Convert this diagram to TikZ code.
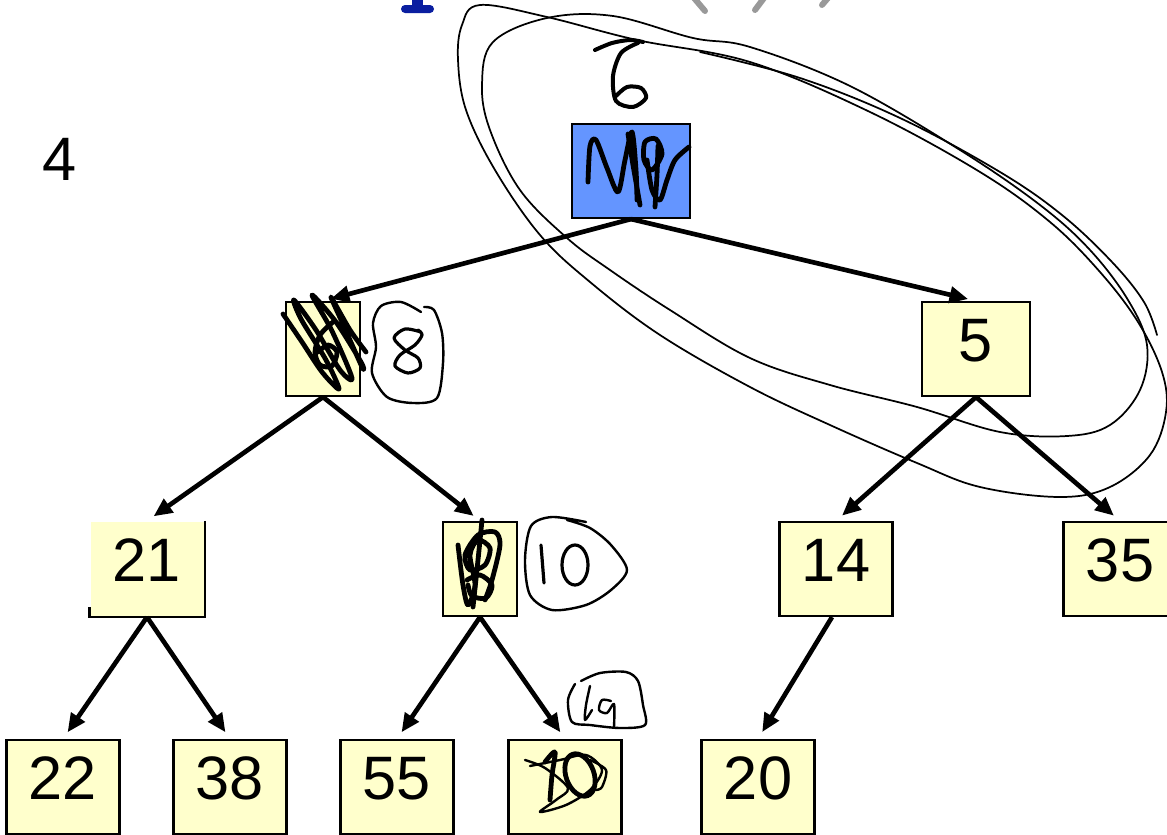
\documentclass[tikz,border=0pt]{standalone}
\usepackage{fontspec}
\setmainfont{Liberation Sans}
\usetikzlibrary{arrows.meta}
\definecolor{boxfill}{HTML}{FFFFCC}
\definecolor{rootfill}{HTML}{6495FF}
\definecolor{titleblue}{HTML}{0A1EA0}
\begin{document}
\begin{tikzpicture}[x=0.75pt,y=-0.75pt,
  box/.style={draw=black, line width=1.6pt, fill=boxfill,
    minimum width=84.75pt, minimum height=70.5pt, inner sep=0pt,
    font=\fontsize{46}{46}\selectfont, text height=33pt, text depth=14pt},
  slim/.style={box, minimum width=55.5pt},
  link/.style={line width=3.5pt, -{Triangle[length=14pt,width=12pt]}, shorten >=6pt},
  ink/.style={line width=1.3pt, line cap=round, line join=round},
  pen/.style={line width=3.6pt, line cap=round, line join=round},
]
\useasboundingbox (0,0) rectangle (1167,835);
\clip (0,0) rectangle (1167,835);

% cut-off heading marks along the top edge
\fill[titleblue, rounded corners=3pt] (401,5) rectangle (434,13);
\fill[titleblue] (412,0) rectangle (423,6);
\draw[gray!80, line width=4.5pt, line cap=round] (694,-2) -- (705,11);
\draw[gray!80, line width=4.5pt, line cap=round] (764,-2) -- (755,10);
\draw[gray!80, line width=4.5pt, line cap=round] (828,-2) -- (822,5);

% side label
\node[font=\fontsize{46}{46}\selectfont, text height=33pt, text depth=0pt, inner sep=0pt] (lvl) at (60,158) {4};

% heap nodes
\node[box, fill=rootfill, minimum width=88.5pt] (r) at (631,171) {};
\node[slim] (a) at (323,349) {};
\node[box, minimum width=81pt] (b) at (976,349) {5};
\node[box, draw=none] (c) at (147,569) {21};
\draw[line width=1.6pt] (c.north east) -- (c.south east) -- (c.south west) -- ++(0,-10);
\node[slim] (d) at (480,569) {};
\node[box] (e) at (836,569) {14};
\node[box] (f) at (1120,569) {35};
\node[box] (g) at (63,787) {22};
\node[box] (h) at (230,787) {38};
\node[box] (i) at (397,787) {55};
\node[box] (j) at (565,787) {};
\node[box] (k) at (758,787) {20};

% tree links
\draw[link] (r.south) -- (a.north);
\draw[link] (r.south) -- (b.north);
\draw[link] (a.south) -- (c.north);
\draw[link] (a.south) -- (d.north);
\draw[link] (b.south) -- (e.north);
\draw[link] (b.south) -- (f.north);
\draw[link] (c.south) -- (g.north);
\draw[link] (c.south) -- (h.north);
\draw[link] (d.south) -- (i.north);
\draw[link] (d.south) -- (j.north);
\draw[link] ([xshift=-3pt]e.south) -- (k.north);

% handwritten: new root value
\draw[pen, line width=3pt] plot[smooth] coordinates {(595,50) (612,43) (630,40) (643,42)};
\draw[pen, line width=3pt] plot[smooth] coordinates {(638,43) (621,53) (613,76) (616,101) (633,107) (646,98) (641,88) (627,87) (616,96)};

% scribble over the root value
\draw[pen] plot[smooth] coordinates {(588,182) (590,146) (596,140) (607,168) (618,192) (625,160) (632,132) (636,170) (637,200)};
\draw[pen] plot[smooth] coordinates {(628,134) (633,165) (640,205)};
\draw[pen] plot[smooth cycle] coordinates {(645,142) (656,139) (662,154) (652,170) (644,160)};
\draw[pen] plot[smooth] coordinates {(658,146) (657,175) (655,207)};
\draw[pen] plot[smooth] coordinates {(647,160) (652,190) (660,200) (667,180) (675,160) (689,147)};

% scribble over the left child, corrected value circled
\draw[pen] plot[smooth] coordinates {(283,314) (302,342) (322,372) (339,389) (326,360) (301,319) (294,300) (316,330) (340,370) (352,378) (332,331) (312,295) (336,322) (361,362) (362,367) (342,322) (331,297) (350,330) (366,352)};
\draw[pen] plot[smooth] coordinates {(333,322) (320,335) (315,352) (320,365) (332,366) (337,352) (328,345) (318,352)};
\draw[ink, line width=1.8pt] plot[smooth] coordinates {(421,312) (401,302) (381,306) (373,323) (376,347) (372,373) (387,397) (413,403) (437,398) (443,363) (442,333) (434,310) (424,307)};
\draw[pen, line width=2.4pt] plot[smooth] coordinates {(421,332) (405,329) (394,338) (405,350) (418,358) (420,368) (408,373) (395,366) (400,355) (415,345) (422,335) (418,330)};

% scribble over the middle node, corrected value in a blob
\draw[pen] plot[smooth] coordinates {(482,520) (478,560) (473,607)};
\draw[pen] plot[smooth] coordinates {(458,545) (463,585) (468,605) (475,585) (470,555) (478,540) (490,548) (485,565) (470,570) (465,555) (478,535) (495,532) (500,545) (492,580) (485,600)};
\draw[pen] plot[smooth] coordinates {(467,580) (480,575) (492,585) (486,598) (472,596) (468,585)};
\draw[ink, line width=1.8pt] plot[smooth] coordinates {(586,522) (552,517) (531,526) (525,560) (530,595) (552,610) (586,605) (611,590) (627,570) (611,545) (590,528) (567,520)};
\draw[pen, line width=2.4pt] (541,545) -- (544,583);
\draw[pen, line width=2.4pt] (575,565) ellipse [x radius=13, y radius=20];

% scribble over the lower node, corrected value in a blob
\draw[pen] plot[smooth] coordinates {(545,762) (555,752) (552,775) (550,800)};
\draw[pen, rotate around={20:(580,775)}] (580,775) ellipse [x radius=14, y radius=22];
\draw[ink, line width=1.8pt] plot[smooth] coordinates {(525,760) (545,768) (568,788) (556,800) (540,812) (566,805) (590,790) (602,770) (586,755) (560,760) (530,766)};
\draw[ink, line width=1.8pt] plot[smooth] coordinates {(590,760) (606,770) (602,787) (596,790)};
\draw[ink, line width=1.8pt] plot[smooth] coordinates {(581,681) (600,673) (626,672) (638,681) (643,705) (645,725) (620,728) (590,725) (572,722) (568,700) (575,684)};
\draw[ink, line width=1.8pt] plot[smooth] coordinates {(590,686) (586,705) (585,720) (592,710)};
\draw[ink, line width=1.8pt] plot[smooth] coordinates {(611,701) (602,700) (599,710) (607,713) (614,704) (614,727)};

% loops around the right part of the heap
\draw[ink] plot[smooth cycle, tension=0.6] coordinates {(480,5) (547,17) (637,40) (750,62) (870,112) (980,172) (1050,222) (1100,272) (1138,322) (1162,372) (1166,412) (1150,455) (1110,487) (1060,497) (980,487) (917,463) (830,425) (750,387) (660,335) (590,282) (540,235) (495,170) (466,110) (458,60) (462,25)};
\draw[ink] plot[smooth cycle, tension=0.6] coordinates {(547,18) (613,16) (693,38) (750,47) (850,86) (960,150) (1040,205) (1090,250) (1128,300) (1147,345) (1140,390) (1110,425) (1067,436) (1000,432) (917,407) (830,385) (750,358) (670,310) (610,270) (567,238) (520,190) (490,130) (482,85) (493,42)};
\draw[ink] plot[smooth, tension=0.6] coordinates {(700,52) (800,78) (900,118) (1000,172) (1062,215) (1112,262) (1144,302) (1157,335)};
\end{tikzpicture}
\end{document}
